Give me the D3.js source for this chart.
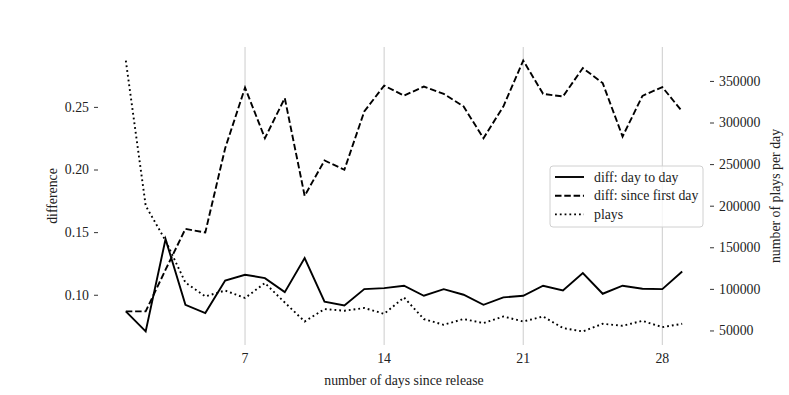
<!DOCTYPE html>
<html>
<head>
<meta charset="utf-8">
<script src="https://cdn.jsdelivr.net/npm/d3@7"></script>
<style>
  body { margin: 0; background: #fff; }
  svg text { font-family: "Liberation Serif", "Times New Roman", serif !important; fill: #222; }
</style>
</head>
<body>
<script>
const days = d3.range(1, 30);
const diffDayToDay = [0.0867, 0.0707, 0.1444, 0.0920, 0.0854, 0.1114, 0.1160, 0.1133, 0.1021, 0.1293,
  0.0945, 0.0915, 0.1045, 0.1053, 0.1072, 0.0992, 0.1045, 0.1000, 0.0920, 0.0979,
  0.0992, 0.1072, 0.1035, 0.1173, 0.1008, 0.1072, 0.1048, 0.1045, 0.1186];
const diffSinceFirst = [0.0867, 0.0867, 0.1200, 0.1526, 0.1497, 0.2170, 0.2654, 0.2250, 0.2570, 0.1790,
  0.2072, 0.1998, 0.2463, 0.2670, 0.2590, 0.2662, 0.2604, 0.2503, 0.2250, 0.2503,
  0.2870, 0.2604, 0.2583, 0.2810, 0.2690, 0.2263, 0.2588, 0.2658, 0.2463];
const plays = [374500, 200000, 158000, 107500, 91000, 98000, 89000, 107000, 83600, 60800,
  75700, 73700, 77000, 70000, 89700, 63700, 56800, 63700, 58900, 66800,
  60800, 66800, 52900, 48800, 58000, 55600, 61600, 54000, 58000];
const xTicks = [7, 14, 21, 28];
const leftTicks = [0.10, 0.15, 0.20, 0.25];
const rightTicks = [50000, 100000, 150000, 200000, 250000, 300000, 350000];

const W = 789, H = 395;
const mLeft = 98, mRight = 710, mTop = 47, mBottom = 345;
const fs = 13.8;

const svg = d3.select("body").append("svg").attr("width", W).attr("height", H);

function padded(ext, f) {
  const r = ext[1] - ext[0];
  return [ext[0] - r * f, ext[1] + r * f];
}

const x = d3.scaleLinear().domain(padded(d3.extent(days), 0.05)).range([mLeft, mRight]);
const yL = d3.scaleLinear()
  .domain(padded(d3.extent(diffDayToDay.concat(diffSinceFirst)), 0.05))
  .range([mBottom, mTop]);
const yR = d3.scaleLinear().domain(padded(d3.extent(plays), 0.05)).range([mBottom, mTop]);

// vertical grid
svg.selectAll("line.grid")
  .data(xTicks)
  .join("line")
  .attr("class", "grid")
  .attr("x1", d => x(d)).attr("x2", d => x(d))
  .attr("y1", mTop).attr("y2", mBottom)
  .attr("stroke", "#cccccc")
  .attr("stroke-width", 1);

// x tick labels
svg.selectAll("text.xt")
  .data(xTicks)
  .join("text")
  .attr("class", "xt")
  .attr("x", d => x(d))
  .attr("y", 363)
  .attr("text-anchor", "middle")
  .attr("font-size", fs)
  .text(d => d);

svg.append("text")
  .attr("x", (mLeft + mRight) / 2)
  .attr("y", 385)
  .attr("text-anchor", "middle")
  .attr("font-size", fs)
  .text("number of days since release");

// left axis
const gL = svg.append("g").attr("transform", "translate(" + mLeft + ",0)")
  .call(d3.axisLeft(yL).tickValues(leftTicks).tickFormat(d3.format(".2f")).tickSize(4).tickPadding(5));
gL.select(".domain").remove();
gL.selectAll("text").attr("font-size", fs).attr("fill", "#222");
gL.selectAll("line").attr("stroke", "#333");

svg.append("text")
  .attr("transform", "translate(57," + ((mTop + mBottom) / 2) + ") rotate(-90)")
  .attr("text-anchor", "middle")
  .attr("font-size", fs)
  .text("difference");

// right axis
const gR = svg.append("g").attr("transform", "translate(" + mRight + ",0)")
  .call(d3.axisRight(yR).tickValues(rightTicks).tickFormat(d3.format("d")).tickSize(4).tickPadding(5));
gR.select(".domain").remove();
gR.selectAll("text").attr("font-size", fs).attr("fill", "#222");
gR.selectAll("line").attr("stroke", "#333");

svg.append("text")
  .attr("transform", "translate(780," + ((mTop + mBottom) / 2) + ") rotate(-90)")
  .attr("text-anchor", "middle")
  .attr("font-size", fs)
  .text("number of plays per day");

// lines
const series = [
  { name: "diff: day to day", vals: diffDayToDay, y: yL, dash: null },
  { name: "diff: since first day", vals: diffSinceFirst, y: yL, dash: "6.5,2.8" },
  { name: "plays", vals: plays, y: yR, dash: "1.8,3" }
];

series.forEach(s => {
  const line = d3.line().x((d, i) => x(days[i])).y(d => s.y(d));
  svg.append("path")
    .datum(s.vals)
    .attr("d", line)
    .attr("fill", "none")
    .attr("stroke", "#000")
    .attr("stroke-width", 1.9)
    .attr("stroke-dasharray", s.dash);
});

// legend
const lg = svg.append("g").attr("transform", "translate(550,166)");
lg.append("rect")
  .attr("width", 153).attr("height", 61)
  .attr("rx", 3)
  .attr("fill", "#fff").attr("fill-opacity", 0.8)
  .attr("stroke", "#d0d0d0");
lg.selectAll("g.item")
  .data(series)
  .join("g")
  .attr("class", "item")
  .attr("transform", (d, i) => "translate(0," + (11 + i * 18.7) + ")")
  .each(function (d) {
    const g = d3.select(this);
    g.append("line")
      .attr("x1", 5).attr("x2", 34)
      .attr("stroke", "#000").attr("stroke-width", 1.9)
      .attr("stroke-dasharray", d.dash);
    g.append("text")
      .attr("x", 44).attr("y", 4.5)
      .attr("font-size", fs)
      .text(d.name);
  });
</script>
</body>
</html>
